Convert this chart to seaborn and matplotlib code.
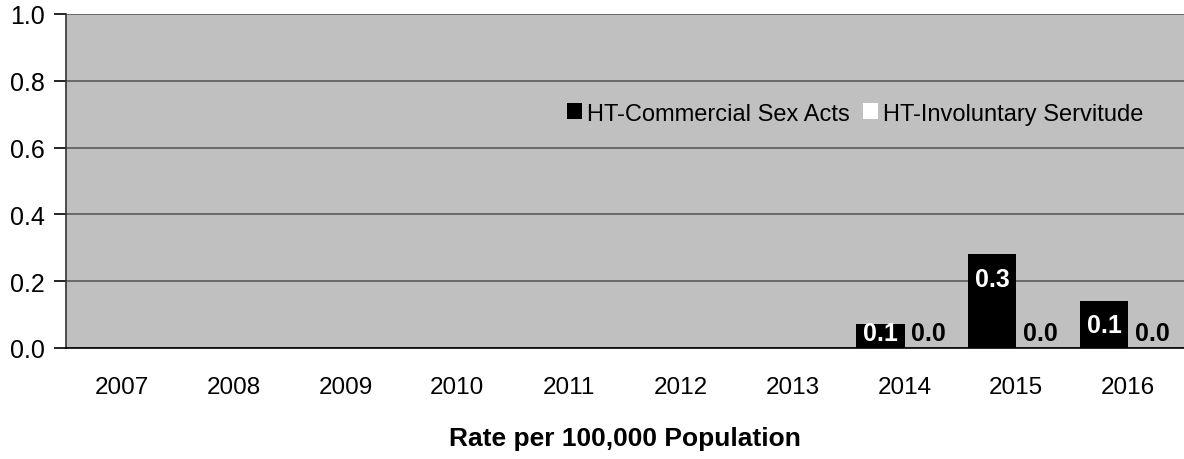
import numpy as np
import pandas as pd
import matplotlib
matplotlib.use("Agg")
import matplotlib.pyplot as plt
import seaborn as sns

# values (rate per 100,000)
years = ["2007", "2008", "2009", "2010", "2011", "2012", "2013", "2014", "2015", "2016"]
series = ["HT-Commercial Sex Acts", "HT-Involuntary Servitude"]
commercial_sex = [np.nan, np.nan, np.nan, np.nan, np.nan, np.nan, np.nan, 0.072, 0.28, 0.14]
involuntary = [np.nan, np.nan, np.nan, np.nan, np.nan, np.nan, np.nan, 0.0, 0.0, 0.0]
y_ticks = [0.0, 0.2, 0.4, 0.6, 0.8, 1.0]

# long table for seaborn
df = pd.DataFrame({
    "Year": years * 2,
    "Series": [series[0]] * len(years) + [series[1]] * len(years),
    "Rate": commercial_sex + involuntary,
}).dropna()

sns.set_style("white")
plt.rcParams["font.family"] = ["Liberation Sans", "DejaVu Sans"]
for key in ["text.color", "axes.labelcolor", "xtick.color", "ytick.color"]:
    plt.rcParams[key] = "black"

fig = plt.figure(figsize=(11.84, 4.6), dpi=100)
ax = fig.add_axes([66 / 1184, 1 - 349 / 460, 1 - 66 / 1184, (349 - 15) / 460])

sns.barplot(data=df, x="Year", y="Rate", hue="Series", order=years, hue_order=series,
            palette=["black", "white"], saturation=1, width=0.86, errorbar=None,
            edgecolor="none", ax=ax)

ax.set_facecolor("#c0c0c0")
ax.set_xlim(-0.5, len(years) - 0.5)
ax.set_ylim(0, 1.0)
ax.set_yticks(y_ticks)
ax.set_yticklabels([f"{t:.1f}" for t in y_ticks])
ax.yaxis.grid(True, color="#5a5a5a", linewidth=1.2)
ax.set_axisbelow(True)

# x ticks sit on category boundaries, labels in the middle
ax.set_xticks(np.arange(-0.5, len(years), 1), minor=True)
ax.tick_params(axis="x", which="minor", length=8, width=1.2, direction="out", color="black")
ax.tick_params(axis="x", which="major", length=0, pad=20, labelsize=17.5)
ax.tick_params(axis="y", length=9, width=1.2, direction="out", pad=6, labelsize=18, left=True)

for side in ["top", "right"]:
    ax.spines[side].set_visible(False)
ax.spines["left"].set_color("#333333")
ax.spines["left"].set_linewidth(1.2)
ax.spines["bottom"].set_color("black")
ax.spines["bottom"].set_linewidth(1.2)

# value labels on bars
for cont, col in zip(ax.containers, ["white", "black"]):
    for p in cont.patches:
        h = p.get_height()
        if np.isnan(h):
            continue
        ypos = max(h - 0.072, 0.044)
        ax.text(p.get_x() + p.get_width() / 2, ypos, f"{h:.1f}", ha="center", va="center",
                color=col, fontsize=18, fontweight="bold")

handles, labels = ax.get_legend_handles_labels()
ax.legend(handles, labels, loc="center", bbox_to_anchor=(0.706, 0.702), ncol=2,
          frameon=False, fontsize=17, handlelength=0.64, handleheight=0.64,
          handletextpad=0.21, columnspacing=0.55)

ax.set_ylabel("")
ax.set_xlabel("Rate per 100,000 Population", fontsize=19, fontweight="bold", labelpad=20)

fig.savefig("out.png", dpi=100)
